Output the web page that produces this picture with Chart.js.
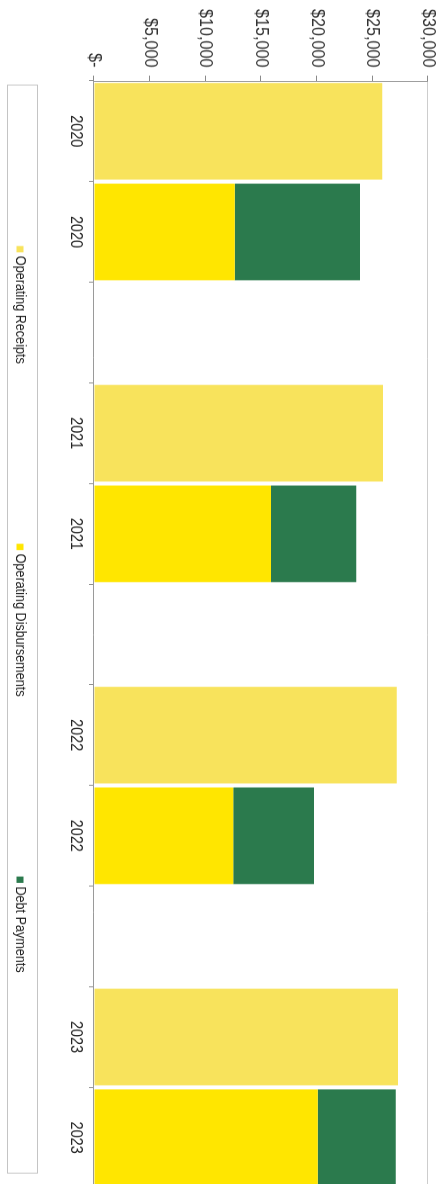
<!DOCTYPE html>
<html>
<head>
<meta charset="utf-8">
<script src="https://cdn.jsdelivr.net/npm/chart.js@4.4.1/dist/chart.umd.min.js"></script>
<style>
  html, body { margin: 0; padding: 0; background: #fff; }
  #page { position: relative; width: 441px; height: 1184px; overflow: hidden; background: #fff; }
  /* the chart is laid out landscape and turned a quarter clockwise onto the page */
  #turn { position: absolute; left: 0; top: 0; width: 1330px; height: 441px;
          transform-origin: 0 0; transform: matrix(0, 0.9, -1, 0, 441, 0); }
</style>
</head>
<body>
<div id="page"><div id="turn"><canvas id="c" width="1330" height="441"></canvas></div></div>
<script>
// Fiscal years and amounts (US$)
const years = ['2020', '2021', '2022', '2023'];
const operatingReceipts = [25900, 25950, 27200, 27300];
const operatingDisbursements = [12650, 15900, 12500, 20100];
const debtPayments = [11250, 7650, 7250, 7000];
const valueTickStep = 5000;
const valueMax = 30000;

// Each year gets two slots (receipts, then outflows) and an empty slot between years
const slotLabels = [];
const receiptsSlots = [], disbursementSlots = [], debtSlots = [];
years.forEach((yr, i) => {
  slotLabels.push(yr, yr);
  receiptsSlots.push(operatingReceipts[i], null);
  disbursementSlots.push(null, operatingDisbursements[i]);
  debtSlots.push(null, debtPayments[i]);
  if (i < years.length - 1) {
    slotLabels.push('');
    receiptsSlots.push(null);
    disbursementSlots.push(null);
    debtSlots.push(null);
  }
});

const FONT = '"Liberation Sans", Arial, Helvetica, sans-serif';

// Boxed legend strip drawn along the bottom edge
const boxLegend = {
  id: 'boxLegend',
  afterDraw(chart) {
    const { ctx } = chart;
    const ds = chart.data.datasets;
    ctx.save();
    ctx.font = '14px ' + FONT;
    const box = 7, textGap = 4, gap = 200;
    const widths = ds.map(d => box + textGap + ctx.measureText(d.label).width);
    const total = widths.reduce((a, b) => a + b, 0) + gap * (ds.length - 1);
    const cy = 421;
    let x = 677 - total / 2;
    ds.forEach((d, i) => {
      ctx.fillStyle = d.backgroundColor;
      ctx.fillRect(x, cy - box / 2, box, box);
      ctx.fillStyle = '#222';
      ctx.textBaseline = 'middle';
      ctx.textAlign = 'left';
      ctx.fillText(d.label, x + box + textGap, cy);
      x += widths[i] + gap;
    });
    ctx.strokeStyle = '#c4c4c4';
    ctx.lineWidth = 1;
    ctx.strokeRect(94.5, 403.5, 1209, 30);
    ctx.restore();
  }
};

new Chart(document.getElementById('c'), {
  type: 'bar',
  data: {
    labels: slotLabels,
    datasets: [
      { label: 'Operating Receipts', data: receiptsSlots, backgroundColor: '#f8e35c' },
      { label: 'Operating Disbursements', data: disbursementSlots, backgroundColor: '#ffe600' },
      { label: 'Debt Payments', data: debtSlots, backgroundColor: '#2b7a4d' }
    ]
  },
  options: {
    responsive: false,
    animation: false,
    layout: { padding: { left: 0, right: 10, top: 13, bottom: 0 } },
    datasets: { bar: { barPercentage: 0.96, categoryPercentage: 1.0, borderWidth: 0 } },
    plugins: { legend: { display: false }, tooltip: { enabled: false } },
    scales: {
      x: {
        stacked: true,
        grid: { color: 'rgba(0,0,0,0)', tickColor: '#8a8a8a', tickLength: 5, offset: true },
        border: { display: true, color: '#9a9a9a' },
        ticks: { color: '#222', font: { family: FONT, size: 16 }, padding: 4, maxRotation: 0, autoSkip: false },
        afterFit: s => { s.height = 94; s.paddingLeft = 0; s.paddingRight = 0; }
      },
      y: {
        stacked: true,
        min: 0,
        max: valueMax,
        ticks: {
          stepSize: valueTickStep,
          padding: 9,
          color: '#333',
          font: { family: FONT, size: 18 },
          callback: v => v === 0 ? '$-' : '$' + v.toLocaleString('en-US')
        },
        grid: {
          color: c => (c.tick && c.tick.value === valueMax) ? '#cdcdcd' : 'rgba(0,0,0,0)',
          tickColor: '#8a8a8a',
          tickLength: 6
        },
        border: { display: true, color: '#9a9a9a' },
        afterFit: s => { s.width = 90; s.paddingTop = 0; s.paddingBottom = 0; }
      }
    }
  },
  plugins: [boxLegend]
});
</script>
</body>
</html>
